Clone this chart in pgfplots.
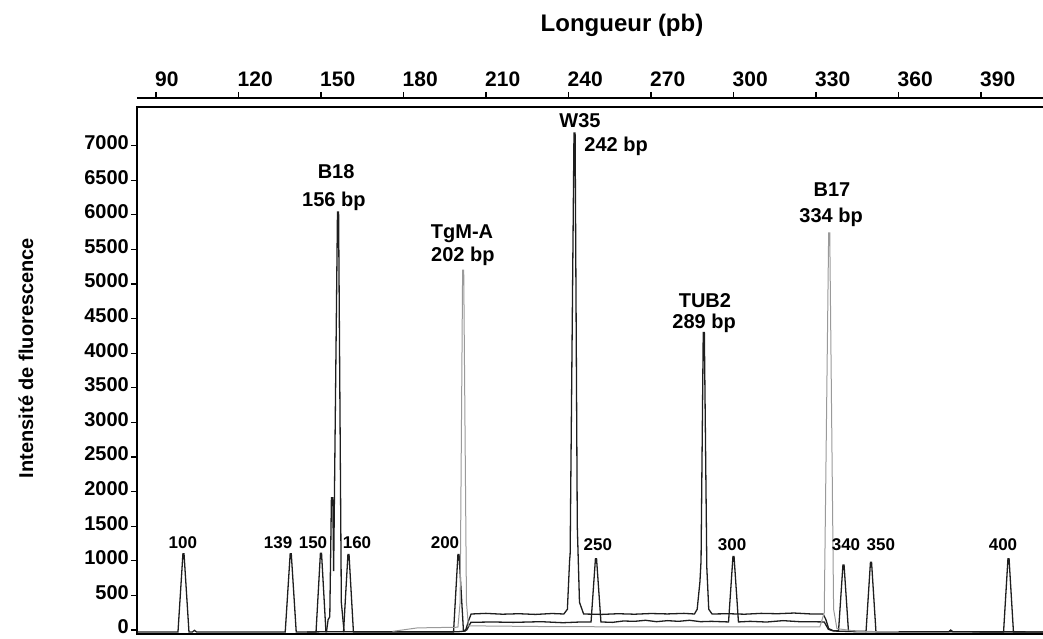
\documentclass[border=0pt]{standalone}
\usepackage{fontspec}
\setmainfont{Liberation Sans}
\usepackage{pgfplots}
\pgfplotsset{compat=1.18}
\definecolor{tracegrey}{HTML}{9A9A9A}
\definecolor{tracedark}{HTML}{1E1E1E}
\begin{document}
\begin{tikzpicture}
\begin{axis}[
  at={(0pt,0pt)}, anchor=south west,
  scale only axis, width=910pt, height=536pt,
  xmin=83.1, xmax=414, ymin=-58, ymax=7688,
  axis x line*=top, axis y line*=left,
  x axis line style={line width=1.6pt},
  y axis line style={draw=none},
  xtick={90,120,...,390},
  ytick={0,500,...,7000},
  tick align=outside,
  major tick length=6pt,
  every tick/.append style={black, line width=1.2pt},
  xticklabel style={font=\fontsize{21}{21}\selectfont\bfseries, anchor=south west, inner sep=0pt, yshift=5pt, xshift=-1pt},
  yticklabel style={font=\fontsize{20}{20}\selectfont\bfseries, anchor=east, inner sep=0pt, xshift=-2pt, yshift=3pt},
  /pgf/number format/assume math mode=true,
  /pgf/number format/set thousands separator={},
  clip=false,
]
\draw[line width=1.8pt] (axis cs:83.1,-58) rectangle (axis cs:414,7558);

% size standard trace
\addplot[tracedark, line width=1.3pt] coordinates {
(83.1,-30) (98.0,-30) (99.8,1100) (100.2,1100) (102.0,-30) (103.2,-30) (104.0,-5) (104.8,-30)
(137.0,-30) (138.8,1100) (139.2,1100) (141.0,-30) (148.2,-30) (149.8,1110) (150.2,1110) (151.8,-25)
(158.2,-25) (159.8,1090) (160.2,1090) (161.8,-30) (198.2,-30) (199.8,1090) (200.2,1090) (201.8,-10)
(203.0,0) (204.5,110) (212,116) (220,110) (230,120) (238,105) (244,115) (248.2,116) (249.8,1030)
(250.2,1030) (251.8,116) (256,110) (260,130) (264,125) (268,140) (272,120) (276,135) (280,125)
(284,140) (288,120) (292,125) (298.2,116) (299.8,1060) (300.2,1060) (301.8,116) (306,125) (312,115)
(318,135) (324,120) (330,118) (333.0,116) (334.5,10) (336,-10) (338.2,-10) (339.8,940) (340.2,940)
(341.8,-15) (348.2,-20) (349.8,980) (350.2,980) (351.8,-25) (378.3,-25) (379.0,0) (379.7,-25)
(398.2,-30) (399.8,1030) (400.2,1030) (401.8,-30) (414,-30)
};

% sample trace (B18, W35, TUB2)
\addplot[tracedark, line width=1.3pt] coordinates {
(145,-30) (152.0,-25) (152.6,150) (153.2,190) (153.8,1910) (154.3,1910) (154.6,850) (156.0,6040)
(156.4,6040) (157.4,400) (158.4,-25) (200,-25) (202.5,-15) (203.8,150) (204.6,231) (210,240)
(216,228) (222,235) (228,225) (234,238) (238.3,231) (239.6,300) (240.4,1000) (240.6,1100)
(242.0,7180) (242.4,7180) (243.2,1500) (244.0,400) (245.5,231) (252,225) (258,235) (264,228)
(270,238) (276,232) (282,240) (285.8,231) (286.8,300) (287.8,700) (288.2,1000) (289.0,4300)
(289.4,4300) (290.3,900) (291.0,300) (292.2,231) (298,235) (304,228) (310,240) (316,235) (322,245)
(328,232) (332.6,230) (333.6,150) (334.6,20) (336.5,-15) (345,-25) (414,-28)
};

% grey trace (TgM-A, B17)
\addplot[tracegrey, line width=1.0pt] coordinates {
(176,-20) (185,30) (199.8,40) (200.6,400) (201.5,5200) (201.9,5200) (202.9,400)
(203.6,60) (230,50) (260,45) (300,45) (331.4,45) (333.0,250) (334.6,5740) (335.0,5740)
(336.4,300) (337.6,20) (345,-20) (360,-25)
};

\begin{scope}[font=\fontsize{20}{20}\selectfont\bfseries]
\node at (axis cs:155.5,6618) {B18};
\node at (axis cs:154.7,6199) {156 bp};
\node at (axis cs:201.3,5723) {TgM-A};
\node at (axis cs:201.6,5405) {202 bp};
\node at (axis cs:244.2,7355) {W35};
\node at (axis cs:257.3,6994) {242 bp};
\node at (axis cs:289.6,4754) {TUB2};
\node at (axis cs:289.3,4436) {289 bp};
\node at (axis cs:335.8,6358) {B17};
\node at (axis cs:335.5,5968) {334 bp};
\end{scope}
\begin{scope}[font=\fontsize{17}{17}\selectfont\bfseries]
\node at (axis cs:99.8,1260) {100};
\node at (axis cs:134.4,1260) {139};
\node at (axis cs:147.1,1260) {150};
\node at (axis cs:163.1,1260) {160};
\node at (axis cs:195.1,1260) {200};
\node at (axis cs:250.7,1240) {250};
\node at (axis cs:299.5,1240) {300};
\node at (axis cs:340.9,1240) {340};
\node at (axis cs:353.6,1240) {350};
\node at (axis cs:398.0,1240) {400};
\end{scope}
\end{axis}
\node[rotate=90, font=\fontsize{20}{20}\selectfont\bfseries] at (-111pt,276pt) {Intensité de fluorescence};
\node[font=\fontsize{24}{24}\selectfont\bfseries] at (485pt,609pt) {Longueur (pb)};
\pgfresetboundingbox
\path[use as bounding box] (-137pt,-5pt) rectangle (906pt,634pt);
\end{tikzpicture}
\end{document}
